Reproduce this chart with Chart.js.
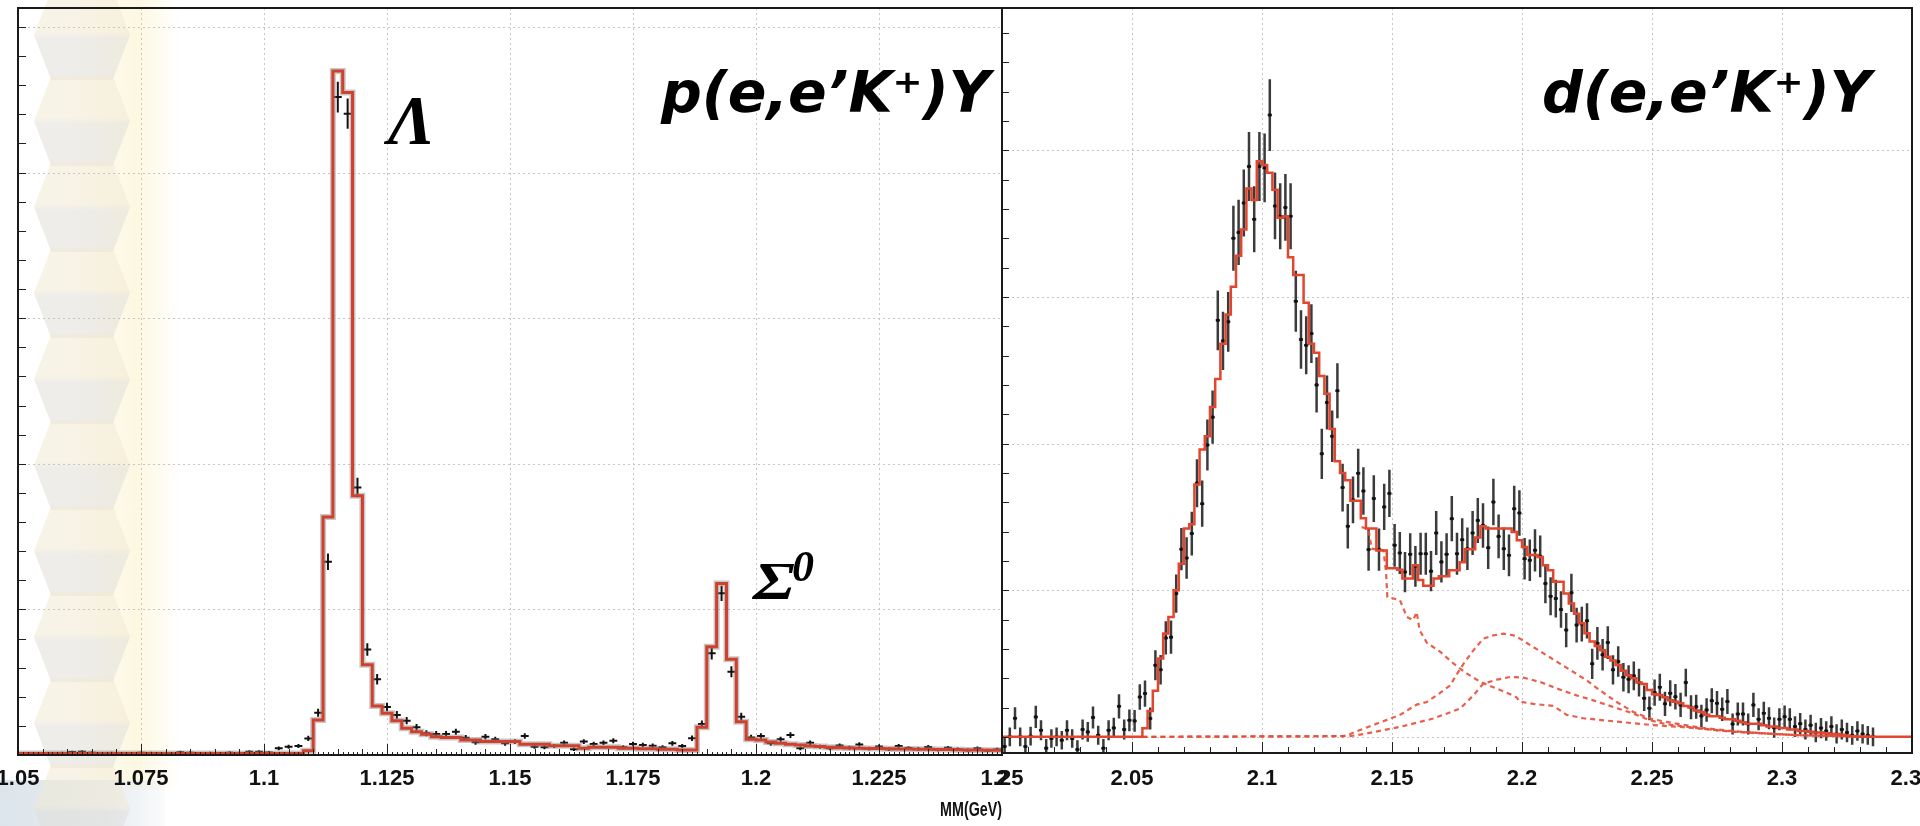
<!DOCTYPE html>
<html>
<head>
<meta charset="utf-8">
<title>Missing mass spectra p(e,e'K+)Y and d(e,e'K+)Y</title>
<script src="https://cdn.jsdelivr.net/npm/chart.js@4.4.1/dist/chart.umd.min.js"></script>
<style>
  html, body { margin: 0; padding: 0; background: #fff; }
  #page { position: relative; width: 1920px; height: 826px; overflow: hidden; }
  #bg { position: absolute; left: 0; top: 0; width: 1920px; height: 826px; }
  .band { position: absolute; left: 70px; top: 0; width: 110px; height: 790px;
          background: linear-gradient(to right, rgba(255,244,200,0), rgba(250,236,178,0.4) 60%, rgba(255,244,200,0)); }
  .hex { position: absolute; left: 34px; width: 96px; height: 90px; opacity: 0.55;
         clip-path: polygon(18% 0, 82% 0, 100% 50%, 82% 100%, 18% 100%, 0 50%);
         background: linear-gradient(#f1e9d3 0, #f1e9d3 46%, #e0ded9 54%, #e0ded9 100%); }
  .foot { position: absolute; left: 0; top: 780px; width: 165px; height: 46px;
          background: linear-gradient(to right, #dde5ec, #e6ecf1 65%, rgba(240,243,246,0.3)); }
  canvas { position: absolute; left: 0; top: 0; }
  .lbl { position: absolute; white-space: nowrap; line-height: 1; color: #000; }
  .title { font-family: 'DejaVu Sans', Verdana, sans-serif; font-weight: bold; font-style: italic; font-size: 57px; }
  .greek { font-family: 'Liberation Serif', 'DejaVu Serif', serif; font-weight: bold; font-style: italic; }
  .axis { font-family: 'Liberation Sans', Arial, sans-serif; font-weight: bold; font-size: 21px; color: #111;
          transform: scaleX(0.68); transform-origin: right center; }
</style>
</head>
<body>
<div id="page">
  <div id="bg"><div class="band"></div><div class="foot"></div></div>
  <canvas id="pChart" width="1920" height="826"></canvas>
  <canvas id="dChart" width="1920" height="826"></canvas>
  <div class="lbl title" style="right:930px; top:64px;">p(e,e’K⁺)Y</div>
  <div class="lbl title" style="right:49px; top:64px;">d(e,e’K⁺)Y</div>
  <div class="lbl greek" style="left:388px; top:86px; font-size:70px;">Λ</div>
  <div class="lbl greek" style="left:753px; top:556px; font-size:52px; transform:scaleX(1.3); transform-origin:left center;">Σ</div>
  <div class="lbl greek" style="left:792px; top:545px; font-size:44px;">0</div>
  <div class="lbl axis" style="right:918px; top:798px;">MM(GeV)</div>
</div>
<script>
// p(e,e'K+)Y : 2 MeV bins from 1.05 GeV
const pBinLo = 1.05;
const pBinW = 0.002;
const pTicks = [1.05, 1.075, 1.1, 1.125, 1.15, 1.175, 1.2, 1.225, 1.25];

// red histogram (simulation / fit)
const pFit = [
  1.1, 1.1, 1.1, 1.1, 1.1, 1.1, 1.1, 1.1, 1.1, 1.1,
  1.1, 1.1, 1.1, 1.1, 1.1, 1.1, 1.1, 1.1, 1.1, 1.1,
  1.1, 1.1, 1.1, 1.1, 1.1, 1.1, 1.1, 1.1, 1.1, 3,
  24, 163.5, 469.7, 455, 178, 62, 33.6, 28.6, 23.5, 18.3,
  16, 14.2, 12.6, 12.1, 12.1, 10.3, 10.3, 9.2, 9.2, 9.2,
  9.2, 7.3, 7.3, 7.3, 6.4, 6.4, 6.4, 4.6, 5.3, 5.3,
  5.3, 4.6, 4.6, 4.3, 4.3, 3.9, 3.9, 3.4, 3.4, 19,
  74.3, 117.8, 65.7, 22.9, 10.8, 10.3, 8.9, 8, 7.3, 6.8,
  6.2, 5.8, 5.3, 5, 4.8, 4.6, 4.5, 4.4, 4.3, 4.2,
  4.1, 4, 3.9, 3.8, 3.7, 3.6, 3.5, 3.4, 3.3, 3.2
];

// black data points
const pData = [
  0.8, 1.2, 0.6, 1.0, 1.4, 2.0, 2.2, 1.6, 0.9, 1.3,
  1.1, 0.7, 1.5, 1.3, 0.8, 1.2, 1.9, 1.6, 1.0, 1.3,
  0.9, 1.6, 1.4, 2.3, 2.3, 1.8, 4.6, 5.7, 6.2, 11.4,
  29, 132.7, 451.8, 440.4, 183.7, 72.5, 52, 33, 27.5, 23.6,
  19, 14.9, 14.4, 14.4, 16, 11.9, 8.7, 12.6, 10.8, 8,
  9.2, 13, 5.7, 5.3, 6.2, 8.4, 3.9, 9.2, 7.6, 8.4,
  9.8, 5.3, 7.6, 6.9, 6.4, 5.3, 8, 6.2, 11.5, 21.3,
  69.8, 111, 57.2, 26.3, 12.1, 13, 8, 10.8, 13.7, 4.6,
  8.4, 5.7, 4.6, 6.5, 5, 7.2, 4.4, 5.8, 3.9, 6.1,
  4.8, 4.2, 5.5, 3.6, 4.9, 4, 3.3, 4.6, 3.1, 3.8
];

// d(e,e'K+)Y : 2 MeV bins from 2.0 GeV
const dBinLo = 2.0;
const dBinW = 0.002;
const dTicks = [2, 2.05, 2.1, 2.15, 2.2, 2.25, 2.3, 2.35];

// red total fit
const dFit = [
  0, 0, 0, 0, 0, 0, 0, 0, 0, 0,
  0, 0, 0, 0, 0, 0, 0, 0, 0, 0,
  0, 0, 0, 0, 0, 0, 0, 5.9, 17.7, 31.5,
  53.5, 70.5, 81.8, 100, 118, 142, 145, 172, 196, 205,
  225, 244, 268, 288, 307, 328, 346, 374, 366, 392.5,
  390, 384.6, 373, 354, 355, 327, 315, 315, 296, 268,
  262, 246, 234, 210, 188, 180, 175, 161, 161, 149,
  142, 142, 127, 127, 115, 115, 114, 108, 108, 117,
  107, 103, 103, 108, 109.5, 109.5, 113.6, 113.6, 119, 128,
  128, 136, 143.6, 142, 142, 142, 142, 142, 139.7, 134,
  129.5, 124, 124, 122.6, 117, 113.6, 105.7, 105.7, 97.8, 91,
  84, 77.4, 70.6, 65, 62, 59, 54.7, 52, 49, 45,
  42, 40, 37, 36, 32, 29, 28.6, 27, 25, 24,
  23, 21, 20, 18, 17, 15, 14, 14, 13, 12,
  12, 11, 10, 9, 9, 9, 8, 7, 7, 6,
  6, 5, 5, 4, 4, 3.5, 3, 3, 2.5, 2,
  2, 1.5, 1, 0.5, 0, 0, 0, 0, 0, 0,
  0, 0, 0, 0, 0
];

const dData = [
  -6.6, 0, 12.7, 0, -6.6, 0.5, 13.6, 4.5, -7.7, -1.1,
  0, -2.3, 4.5, -1.1, -8.6, 5, 3.4, 13.2, 1.1, -7.7,
  4.5, 6.1, 20.8, 5, 11.3, 10.9, 27.2, 29.5, 12.5, 48.8,
  45.8, 67.5, 68, 97.7, 128, 122, 138.6, 173, 159, 199,
  218, 284, 270, 283, 340, 344, 364, 389, 353, 389,
  388, 424, 362, 355, 361, 355, 297, 271, 267, 275,
  240, 193, 228, 205, 236, 170, 143.6, 161.6, 179.8, 167.6,
  127.7, 162.5, 127.7, 156.8, 166, 130.6, 125.4, 112.4, 124.5, 116.3,
  124.9, 124.9, 113, 139, 119.3, 124.5, 148.8, 124.9, 134.4, 128.3,
  139, 147.6, 144.2, 129, 160.1, 136.7, 128.3, 123.8, 155.6, 152.6,
  121.5, 120.4, 127.2, 123.1, 104.5, 95.9, 94.3, 86.8, 72.8, 98.2,
  76.2, 76.9, 79.1, 49.8, 63.8, 56, 64.3, 45.7, 51.4, 40.7,
  39.3, 41.6, 37, 26.3, 19.5, 30.2, 33.8, 22.5, 29.7, 27.4,
  21.8, 37, 20.2, 20.6, 14.3, 18.4, 24.7, 22.9, 18.8, 24.1,
  8.8, 15.6, 15.6, 8.8, 21.8, 12, 16.1, 12.7, 6.3, 12,
  13.8, 12, 7, 9, 5, 8, 3, 6, 4, 7,
  2, 5, 3, 1, 4, 2, 1, 0, null, null,
  null, null, null, null, null
];

// dashed components of the fit
const dLamX = [2.1383, 2.1409, 2.1422, 2.1467, 2.1477, 2.1482, 2.1531, 2.1557, 2.1582, 2.1595,
               2.1606, 2.1634, 2.1685, 2.1736, 2.1787, 2.1839, 2.189, 2.1941, 2.1979, 2.1992,
               2.2044, 2.2121, 2.2172, 2.2236, 2.2364, 2.2492, 2.262, 2.2813, 2.3069, 2.335];
const dLamY = [143, 141.9, 128.3, 127.2, 112.4, 95.4, 93.1, 81.8, 79.6, 85.2,
               72.8, 64.2, 58.1, 50.1, 43.3, 37.6, 33.8, 30.2, 27, 24,
               22.5, 21.1, 15, 12.7, 10.4, 8.2, 6.6, 3.6, 1.1, 0];
const dSigX = [2.054, 2.1313, 2.1339, 2.1403, 2.148, 2.1531, 2.1595, 2.1634, 2.1685, 2.1723,
               2.1749, 2.1775, 2.1813, 2.1851, 2.189, 2.1928, 2.1967, 2.1992, 2.2044, 2.2095,
               2.2146, 2.2198, 2.2249, 2.23, 2.2364, 2.2428, 2.2492, 2.2556, 2.2685, 2.2813,
               2.2941, 2.3069, 2.335];
const dSigY = [0, 0.5, 2, 6.4, 11.6, 15, 22, 23.8, 30, 35,
               42.6, 49.8, 59, 67, 69.2, 70.4, 69.2, 67, 61.2, 55.6,
               49.9, 44.2, 38.5, 31.7, 23.8, 17, 12.5, 10.2, 6.3, 3.9,
               2.3, 1.1, 0];
const dSig2X = [2.054, 2.1339, 2.1403, 2.1531, 2.1659, 2.1762, 2.1813, 2.1851, 2.1903, 2.1954,
                2.2005, 2.207, 2.2146, 2.221, 2.2274, 2.2351, 2.2428, 2.2492, 2.2556, 2.2685,
                2.2813, 2.3069, 2.335];
const dSig2Y = [0, 0.5, 2.3, 6.8, 12.5, 19.3, 28.3, 36.3, 39, 40.8,
                40.4, 37.4, 32.2, 28.3, 24.9, 20.4, 15.9, 11.3, 8.6, 5.7,
                3.4, 1.1, 0];

// background decoration (slide template)
const bg = document.getElementById('bg');
for (let k = 0; k < 10; k++) {
  const h = document.createElement('div');
  h.className = 'hex';
  h.style.top = (-10 + k * 86) + 'px';
  bg.appendChild(h);
}

function histLine(lo, w, vals) {
  const pts = vals.map((v, i) => ({x: lo + i * w, y: v}));
  pts.push({x: lo + vals.length * w, y: vals[vals.length - 1]});
  return pts;
}

function histPoints(lo, w, vals, errFn) {
  const pts = [];
  vals.forEach((v, i) => {
    if (v !== null) pts.push({x: lo + (i + 0.5) * w, y: v, e: errFn(v)});
  });
  return pts;
}

function xy(xs, ys) {
  return xs.map((x, i) => ({x: x, y: ys[i]}));
}

function steps(from, to, step) {
  const out = [];
  const n = Math.floor((to - from) / step + 1e-6);
  for (let i = 0; i <= n; i++) out.push(from + i * step);
  return out;
}

const isTick = (list, v) => list.some(t => Math.abs(t - v) < 1e-6);

// ROOT-like frame: dotted grid, inward ticks, error bars
const rootFrame = {
  id: 'rootFrame',
  beforeDatasetsDraw(chart, args, o) {
    const {ctx, chartArea: a, scales: {x, y}} = chart;
    ctx.save();
    ctx.strokeStyle = '#c6c6c6';
    ctx.lineWidth = 1;
    ctx.setLineDash([2, 3]);
    ctx.beginPath();
    o.xGrid.forEach(v => {
      const p = Math.round(x.getPixelForValue(v)) + 0.5;
      ctx.moveTo(p, a.top); ctx.lineTo(p, a.bottom);
    });
    o.yGrid.forEach(v => {
      const p = Math.round(y.getPixelForValue(v)) + 0.5;
      ctx.moveTo(a.left, p); ctx.lineTo(a.right, p);
    });
    ctx.stroke();
    ctx.setLineDash([]);

    // error bars of the data sets
    ctx.beginPath();
    ctx.rect(a.left, a.top, a.width, a.height);
    ctx.clip();
    chart.data.datasets.forEach(ds => {
      if (!ds.errX) return;
      ctx.strokeStyle = ds.barColor;
      ctx.lineWidth = ds.barWidth;
      ctx.beginPath();
      ds.data.forEach(d => {
        const px = x.getPixelForValue(d.x), py = y.getPixelForValue(d.y);
        ctx.moveTo(px, y.getPixelForValue(d.y - d.e));
        ctx.lineTo(px, y.getPixelForValue(d.y + d.e));
        ctx.moveTo(x.getPixelForValue(d.x - ds.errX), py);
        ctx.lineTo(x.getPixelForValue(d.x + ds.errX), py);
      });
      ctx.stroke();
    });
    ctx.restore();
  },
  afterDatasetsDraw(chart, args, o) {
    const {ctx, chartArea: a, scales: {x, y}} = chart;
    ctx.save();
    ctx.strokeStyle = '#222';
    ctx.lineWidth = 1;
    ctx.beginPath();
    o.xMarks.forEach(m => {
      steps(x.min, x.max, m.step).forEach(v => {
        const p = Math.round(x.getPixelForValue(v)) + 0.5;
        ctx.moveTo(p, a.bottom); ctx.lineTo(p, a.bottom - m.len);
      });
    });
    o.yMarks.forEach(m => {
      steps(Math.ceil(y.min / m.step) * m.step, y.max, m.step).forEach(v => {
        const p = Math.round(y.getPixelForValue(v)) + 0.5;
        ctx.moveTo(a.left, p); ctx.lineTo(a.left + m.len, p);
      });
    });
    ctx.stroke();
    ctx.strokeStyle = '#1a1a1a';
    ctx.lineWidth = 2;
    ctx.strokeRect(a.left, a.top, a.width, a.height);
    ctx.restore();
  }
};

const tickFont = {family: "'Liberation Sans', Arial, sans-serif", size: 22, weight: 'bold'};

function panel(canvasId, cfg) {
  return new Chart(document.getElementById(canvasId), {
    type: 'line',
    data: {datasets: cfg.datasets},
    options: {
      responsive: false,
      animation: false,
      events: [],
      layout: {padding: cfg.padding},
      plugins: {
        legend: {display: false},
        tooltip: {enabled: false},
        rootFrame: cfg.frame
      },
      scales: {
        x: {
          type: 'linear',
          min: cfg.xMin,
          max: cfg.xMax,
          grid: {display: false, drawTicks: false},
          border: {display: false},
          ticks: {
            stepSize: cfg.xStep,
            autoSkip: false,
            maxRotation: 0,
            minRotation: 0,
            padding: cfg.labelPad,
            color: '#111',
            font: tickFont,
            callback: v => isTick(cfg.ticks, v) ? String(+v.toFixed(3)) : ''
          },
          afterFit(s) { s.height = cfg.axisHeight; s.paddingLeft = 0; s.paddingRight = 0; }
        },
        y: {
          type: 'linear',
          display: false,
          min: cfg.yMin,
          max: cfg.yMax
        }
      }
    },
    plugins: [rootFrame]
  });
}

// left panel
panel('pChart', {
  padding: {left: 18, right: 918, top: 8, bottom: 0},
  xMin: 1.05, xMax: 1.25, xStep: 0.005, ticks: pTicks,
  yMin: 0, yMax: 513,
  labelPad: 11, axisHeight: 71,
  frame: {
    xGrid: pTicks, yGrid: [100, 200, 300, 400, 500],
    xMarks: [{step: 0.025, len: 11}, {step: 0.005, len: 6}, {step: 0.001, len: 3}],
    yMarks: [{step: 20, len: 8}]
  },
  datasets: [
    {data: histLine(pBinLo, pBinW, pFit), stepped: 'before', borderColor: 'rgb(208,64,44)',
     borderWidth: 3, pointRadius: 0, fill: false, order: 0},
    {data: histLine(pBinLo, pBinW, pFit), stepped: 'before', borderColor: 'rgba(130,130,130,0.45)',
     borderWidth: 6, pointRadius: 0, fill: false, order: 1},
    {data: histPoints(pBinLo, pBinW, pData, v => Math.sqrt(0.244 * Math.max(v, 0) + 0.5)),
     showLine: false, pointRadius: 0, errX: 0.4 * pBinW, barColor: '#111', barWidth: 2, order: 2}
  ]
});

// right panel
panel('dChart', {
  padding: {left: 1002, right: 8, top: 8, bottom: 0},
  xMin: 2.0, xMax: 2.35, xStep: 0.01, ticks: dTicks,
  yMin: -11, yMax: 497,
  labelPad: 13, axisHeight: 73,
  frame: {
    xGrid: dTicks, yGrid: [0, 100, 200, 300, 400],
    xMarks: [{step: 0.05, len: 11}, {step: 0.01, len: 6}],
    yMarks: [{step: 20, len: 7}]
  },
  datasets: [
    {data: histLine(dBinLo, dBinW, dFit), stepped: 'before', borderColor: 'rgb(226,70,46)',
     borderWidth: 2.5, pointRadius: 0, fill: false, order: 0},
    {data: xy(dLamX, dLamY), borderColor: 'rgba(228,78,58,0.9)', borderDash: [5, 4],
     borderWidth: 2.2, pointRadius: 0, fill: false, order: 1},
    {data: xy(dSigX, dSigY), borderColor: 'rgba(228,78,58,0.9)', borderDash: [5, 4],
     borderWidth: 2.2, pointRadius: 0, fill: false, order: 1},
    {data: xy(dSig2X, dSig2Y), borderColor: 'rgba(228,78,58,0.9)', borderDash: [5, 4],
     borderWidth: 2.2, pointRadius: 0, fill: false, order: 1},
    {data: histPoints(dBinLo, dBinW, dData, v => Math.sqrt(1.32 * Math.max(v, 0) + 40)),
     showLine: false, pointRadius: 1.8, pointBackgroundColor: '#111', pointBorderWidth: 0,
     errX: 0.4 * dBinW, barColor: 'rgba(25,25,25,0.85)', barWidth: 2.5, order: 2}
  ]
});
</script>
</body>
</html>
